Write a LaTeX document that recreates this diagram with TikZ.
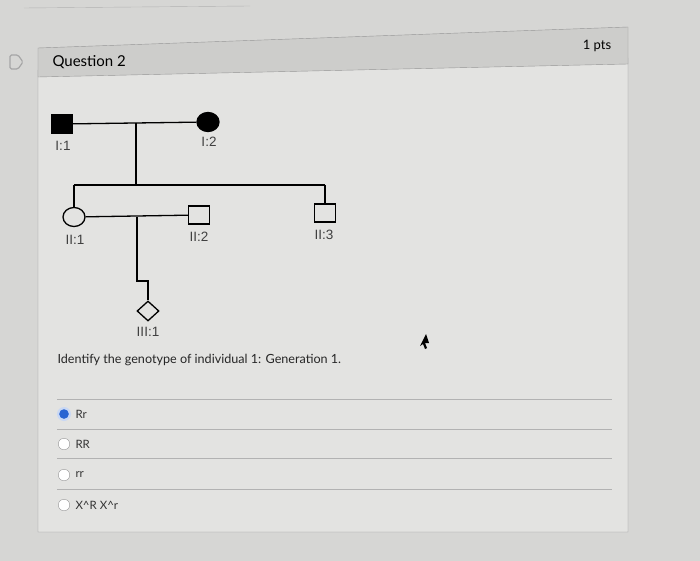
\documentclass[tikz,border=0pt]{standalone}
\usepackage{fontspec}
\setmainfont{Lato}
\newfontfamily\pedfont{Liberation Sans}
\usetikzlibrary{shapes.geometric, positioning, calc}
\definecolor{pagebg}{RGB}{214,214,212}
\definecolor{cardbg}{RGB}{227,227,225}
\definecolor{headbg}{RGB}{205,205,203}
\definecolor{cardline}{RGB}{150,150,150}
\definecolor{pickblue}{RGB}{40,100,210}

\begin{document}
\begin{tikzpicture}[x=1pt, y=-1pt,
    male/.style={rectangle, draw, line width=1.3pt, minimum width=21pt, minimum height=18pt, inner sep=0pt},
    female/.style={ellipse, draw, line width=1.3pt, minimum width=22pt, minimum height=19pt, inner sep=0pt},
    unknown/.style={diamond, draw, line width=1.3pt, minimum width=22pt, minimum height=20pt, inner sep=0pt},
    tag/.style={font=\pedfont\fontsize{13.5}{15}\selectfont, text=black!75},
    line/.style={line width=1.3pt, black},
    radio/.style={circle, draw=gray!80, fill=white, minimum size=11.5pt, inner sep=0pt},
    choice/.style={font=\fontsize{11.5}{13}\selectfont, anchor=west, text=black!80},
    rule/.style={gray!60, thin}
]
    % Page and card
    \fill[pagebg] (0,0) rectangle (700,561);
    \useasboundingbox (0,0) rectangle (700,561);
    \draw[gray!60] (24,8) -- (250,6);
    \fill[cardbg, draw=cardline] (38,70) -- (628,58) -- (628,532) -- (38,532) -- cycle;
    \fill[headbg, draw=cardline] (38,48) -- (628,27) -- (628,64) -- (38,77) -- cycle;
    \node[anchor=west, font=\fontsize{15}{18}\selectfont] (title) at (49,62) {Question 2};
    \node[font=\fontsize{13}{16}\selectfont] (pts) at (597,46) {1 pts};
    \draw[gray!70, line width=1.2pt, rounded corners=1.5pt] (10,55) -- (18,55) -- (23,62) -- (18,69) -- (10,69) -- cycle;

    % Generation I
    \node[male, fill=black] (i1) at (62,124) {};
    \node[female, fill=black] (i2) at (208,122) {};
    \node[tag] (ti1) at (63,146) {I:1};
    \node[tag] (ti2) at (209,142) {I:2};
    \coordinate (m1) at (136,123);
    \coordinate (s1) at (136,185);
    \draw[line] (i1) -- (i2);
    \draw[line] (m1) -- (s1);

    % Generation II
    \node[female] (ii1) at (74,217) {};
    \node[male] (ii2) at (199,215) {};
    \node[male] (ii3) at (325,213) {};
    \node[tag] (tii1) at (75,240) {II:1};
    \node[tag] (tii2) at (199,237) {II:2};
    \node[tag] (tii3) at (324,235) {II:3};
    \draw[line] (ii1.north |- s1) -- (ii3.north |- s1);
    \draw[line] (ii1.north |- s1) -- (ii1.north);
    \draw[line] (ii3.north |- s1) -- (ii3.north);
    \draw[line] (ii1) -- (ii2);

    % Generation III
    \node[unknown] (iii1) at (148,311) {};
    \node[tag] (tiii1) at (148,332) {III:1};
    \coordinate (m2) at (137,217);
    \coordinate (k2) at (137,281);
    \draw[line] (m2) -- (k2) -| (iii1.north);

    % Question and choices
    \node[anchor=west, font=\fontsize{12.6}{15}\selectfont, text=black!85] (q) at (54,360) {Identify the genotype of individual 1: Generation 1.};
    \foreach \y in {399,429,458,489}
        \draw[rule] (57,\y) -- (612,\y);
    \node[circle, fill=pickblue!25, minimum size=14pt, inner sep=0pt] (r1) at (64,414) {};
    \node[circle, draw=pickblue, fill=pickblue, line width=1.5pt, minimum size=8pt, inner sep=0pt] at (r1) {};
    \node[radio] (r2) at (64,444) {};
    \node[radio] (r3) at (64,475) {};
    \node[radio] (r4) at (64,505) {};
    \node[choice] (c1) at (72,414) {Rr};
    \node[choice] (c2) at (72,444) {RR};
    \node[choice] (c3) at (72,475) {rr};
    \node[choice] (c4) at (72,505) {X\^{}R X\^{}r};

    % Cursor
    \fill[black] (426,334) -- (420,346) -- (423,344) -- (425,349) -- (427,348) -- (425,343) -- (429,343) -- cycle;
\end{tikzpicture}
\end{document}
